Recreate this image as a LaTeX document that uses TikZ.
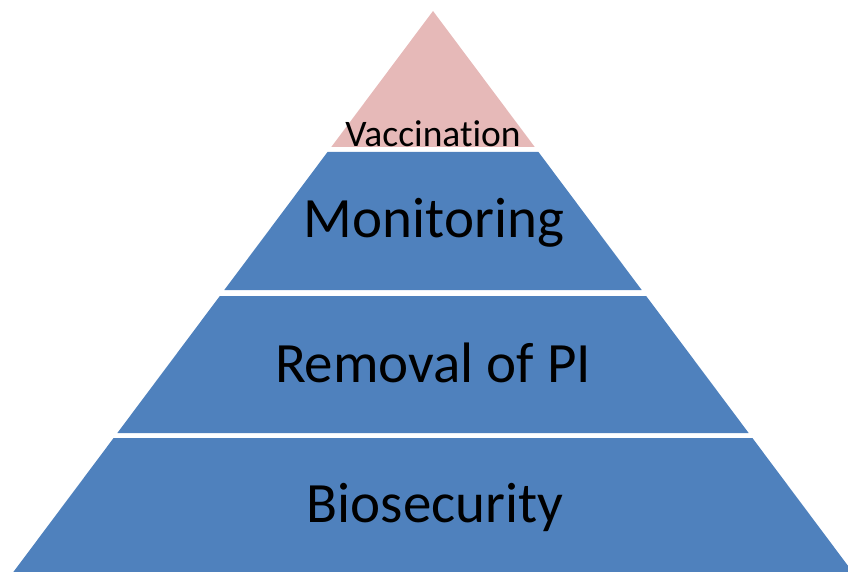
\documentclass[tikz,border=0pt]{standalone}
\usepackage{fontspec}
\setmainfont{Carlito}[Ligatures={NoCommon}]
\usepackage{tikz}
\definecolor{tierblue}{HTML}{4F81BD}
\definecolor{tierpink}{HTML}{E6B9B8}
\tikzset{
  tier/.style={fill=#1, draw=none},
  tierlabel/.style={anchor=base, inner sep=0pt, text=black},
}
% half width of the pyramid at height y (apex at 433,11)
\newcommand{\pyrx}[2]{({433#10.748*(#2-11)},#2)}

\begin{document}
\begin{tikzpicture}[x=1pt,y=-1pt]
\useasboundingbox (0,0) rectangle (848,572);
\clip (0,0) rectangle (848,572);
% top
\draw[tier=tierpink] (433,11) -- \pyrx{+}{147} -- \pyrx{-}{147} -- cycle;
% bands
\draw[tier=tierblue] \pyrx{-}{152} -- \pyrx{+}{152} -- \pyrx{+}{290} -- \pyrx{-}{290} -- cycle;
\draw[tier=tierblue] \pyrx{-}{296} -- \pyrx{+}{296} -- \pyrx{+}{433} -- \pyrx{-}{433} -- cycle;
\draw[tier=tierblue] \pyrx{-}{438} -- \pyrx{+}{438} -- \pyrx{+}{590} -- \pyrx{-}{590} -- cycle;
% labels
\node[tierlabel, font=\fontsize{37.5}{40}\selectfont] (vacc) at (433,147) {Vaccination};
\node[tierlabel, font=\fontsize{57}{60}\selectfont] (mon) at (434,237) {Monitoring};
\node[tierlabel, font=\fontsize{57}{60}\selectfont] (rem) at (433,382) {Removal of PI};
\node[tierlabel, font=\fontsize{57}{60}\selectfont] (bio) at (435,522) {Biosecurity};
\end{tikzpicture}
\end{document}
